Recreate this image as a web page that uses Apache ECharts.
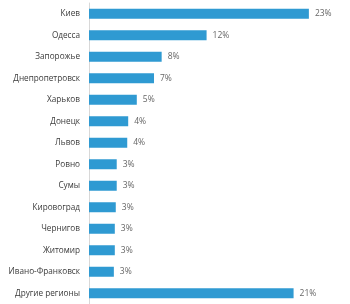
<!DOCTYPE html>
<html><head><meta charset="utf-8">
<script src="https://cdn.jsdelivr.net/npm/echarts@6/dist/echarts.min.js"></script>
<style>html,body{margin:0;padding:0;background:#fff}#c{width:350px;height:304px}</style>
</head><body><div id="c"></div>
<script>
const categories = ['Киев','Одесса','Запорожье','Днепропетровск','Харьков','Донецк','Львов','Ровно','Сумы','Кировоград','Чернигов','Житомир','Ивано-Франковск','Другие регионы'];
const values = [23, 12.3, 7.6, 6.8, 5.0, 4.1, 4.0, 2.9, 2.9, 2.8, 2.7, 2.7, 2.6, 21.4];
const valueLabels = ['23%','12%','8%','7%','5%','4%','4%','3%','3%','3%','3%','3%','3%','21%'];

const chart = echarts.init(document.getElementById('c'), null, {renderer:'canvas'});
chart.setOption({
  animation:false,
  grid:{left:89, right:22, top:3, bottom:0, containLabel:false},
  xAxis:{type:'value', min:0, max:25, show:false},
  yAxis:{type:'category', data:categories, inverse:true,
    axisLine:{show:true, lineStyle:{color:'#d8d8d8', width:1}},
    axisTick:{show:false},
    axisLabel:{color:'#3a3a3a', fontFamily:'Open Sans', fontSize:8.2, margin:9}},
  series:[{type:'bar', data:values, barWidth:10,
    itemStyle:{color:'#2f9ad2'},
    label:{show:true, position:'right', distance:6, color:'#666', fontFamily:'Open Sans', fontSize:8.5,
      formatter:p=>valueLabels[p.dataIndex]}}]
});
</script></body></html>
